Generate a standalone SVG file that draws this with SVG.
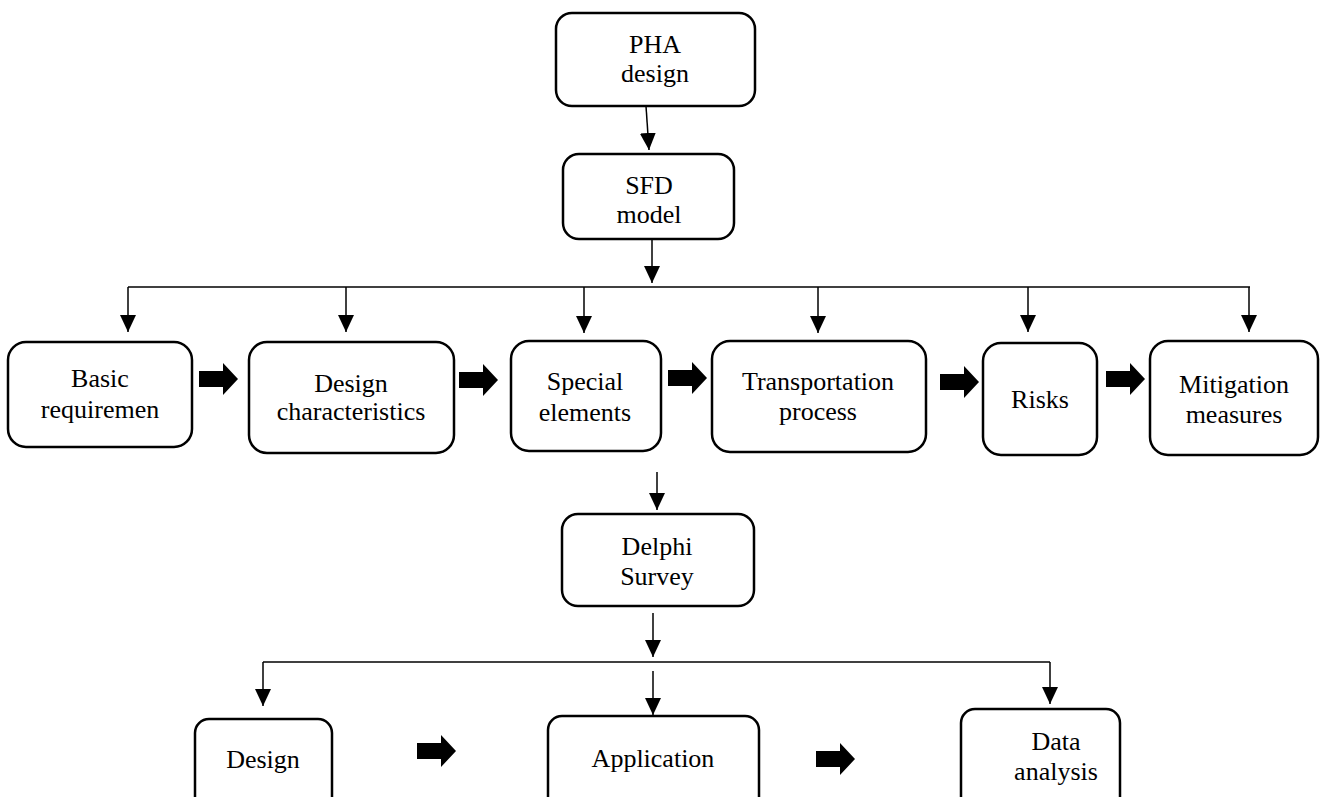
<svg xmlns="http://www.w3.org/2000/svg" width="1320" height="797" viewBox="0 0 1320 797">
<style>
.box{fill:#fff;stroke:#000;stroke-width:2.5}
.t{font-family:"Liberation Serif","Times New Roman",serif;font-size:26px;fill:#000;text-anchor:middle}
.ln{fill:none;stroke:#000;stroke-width:1.5}
.big{fill:#000}
</style>
<defs>
<marker id="ah" markerUnits="userSpaceOnUse" markerWidth="18" markerHeight="18" viewBox="0 0 18 18" refX="17" refY="9" orient="auto">
<path d="M0,1 L17,9 L0,17 Z" fill="#000"/>
</marker>
<path id="fat" d="M0,-8 L24,-8 L24,-16 L39,0 L24,16 L24,8 L0,8 Z"/>
</defs>
<rect width="1320" height="797" fill="#fff"/>
<g id="connectors">
<line class="ln" x1="646" y1="106" x2="649" y2="150" marker-end="url(#ah)"/>
<line class="ln" x1="652" y1="239" x2="652" y2="283" marker-end="url(#ah)"/>
<line class="ln" x1="128" y1="287" x2="1250" y2="287"/>
<line class="ln" x1="128" y1="287" x2="128" y2="332" marker-end="url(#ah)"/>
<line class="ln" x1="346" y1="287" x2="346" y2="332" marker-end="url(#ah)"/>
<line class="ln" x1="584" y1="287" x2="584" y2="333" marker-end="url(#ah)"/>
<line class="ln" x1="818" y1="287" x2="818" y2="333" marker-end="url(#ah)"/>
<line class="ln" x1="1028" y1="287" x2="1028" y2="332" marker-end="url(#ah)"/>
<line class="ln" x1="1249" y1="287" x2="1249" y2="332" marker-end="url(#ah)"/>
<line class="ln" x1="657" y1="472" x2="657" y2="510" marker-end="url(#ah)"/>
<line class="ln" x1="653" y1="613" x2="653" y2="657" marker-end="url(#ah)"/>
<line class="ln" x1="263" y1="662" x2="1050" y2="662"/>
<line class="ln" x1="263" y1="662" x2="263" y2="706" marker-end="url(#ah)"/>
<line class="ln" x1="653" y1="671" x2="653" y2="715" marker-end="url(#ah)"/>
<line class="ln" x1="1050" y1="662" x2="1050" y2="704" marker-end="url(#ah)"/>
<use href="#fat" class="big" x="199" y="379"/>
<use href="#fat" class="big" x="459" y="380"/>
<use href="#fat" class="big" x="668" y="378"/>
<use href="#fat" class="big" x="940" y="382"/>
<use href="#fat" class="big" x="1106" y="379"/>
<use href="#fat" class="big" x="417" y="751"/>
<use href="#fat" class="big" x="816" y="759"/>
</g>
<g id="pha"><rect class="box" x="556" y="13" width="199" height="93" rx="16"/><text class="t" x="655" y="53">PHA</text><text class="t" x="655" y="82">design</text></g>
<g id="sfd"><rect class="box" x="563" y="154" width="171" height="85" rx="16"/><text class="t" x="649" y="194">SFD</text><text class="t" x="649" y="223">model</text></g>
<g id="basic"><rect class="box" x="8" y="342" width="184" height="105" rx="18"/><text class="t" x="100" y="387">Basic</text><text class="t" x="100" y="418">requiremen</text></g>
<g id="designchar"><rect class="box" x="249" y="342" width="205" height="111" rx="18"/><text class="t" x="351" y="392">Design</text><text class="t" x="351" y="420">characteristics</text></g>
<g id="special"><rect class="box" x="511" y="341" width="150" height="110" rx="18"/><text class="t" x="585" y="390">Special</text><text class="t" x="585" y="421">elements</text></g>
<g id="transport"><rect class="box" x="712" y="341" width="214" height="111" rx="18"/><text class="t" x="818" y="390">Transportation</text><text class="t" x="818" y="420">process</text></g>
<g id="risks"><rect class="box" x="983" y="343" width="114" height="112" rx="18"/><text class="t" x="1040" y="408">Risks</text></g>
<g id="mitigation"><rect class="box" x="1150" y="341" width="168" height="114" rx="18"/><text class="t" x="1234" y="393">Mitigation</text><text class="t" x="1234" y="423">measures</text></g>
<g id="delphi"><rect class="box" x="562" y="514" width="192" height="92" rx="16"/><text class="t" x="657" y="555">Delphi</text><text class="t" x="657" y="585">Survey</text></g>
<g id="design"><rect class="box" x="195" y="719" width="137" height="95" rx="14"/><text class="t" x="263" y="768">Design</text></g>
<g id="application"><rect class="box" x="548" y="716" width="211" height="98" rx="14"/><text class="t" x="653" y="767">Application</text></g>
<g id="data"><rect class="box" x="961" y="709" width="159" height="105" rx="14"/><text class="t" x="1056" y="750">Data</text><text class="t" x="1056" y="780">analysis</text></g>
</svg>
